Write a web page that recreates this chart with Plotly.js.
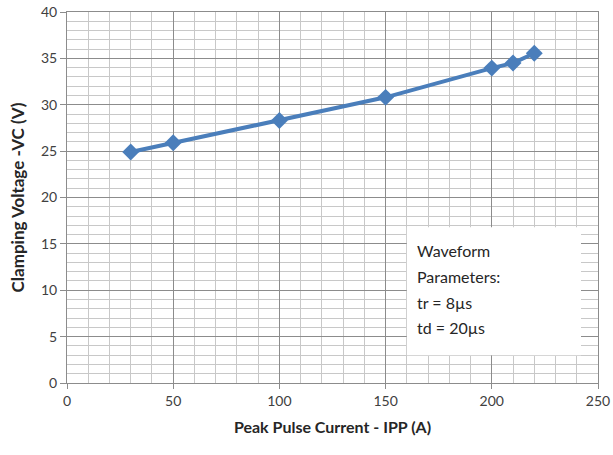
<!DOCTYPE html>
<html><head><meta charset="utf-8">
<script src="https://cdn.plot.ly/plotly-3.0.1.min.js"></script>
<style>html,body{margin:0;padding:0;background:#fff}#c{width:613px;height:455px}</style>
</head><body><div id="c"></div>
<script>
const currents = [30, 50, 100, 150, 200, 210, 220];
const voltages = [24.9, 25.9, 28.3, 30.8, 33.95, 34.5, 35.55];
const noteLines = ["Waveform", "Parameters:", "tr = 8\u00b5s", "td = 20\u00b5s"];
const xTitle = "Peak Pulse Current - IPP (A)";
const yTitle = "Clamping Voltage -VC (V)";

const font = "Lato, 'Open Sans', sans-serif";
const annotations = noteLines.map((t, i) => ({
  x: 0.655, y: 0.356 - i * 0.069, xref: 'paper', yref: 'paper',
  xanchor: 'left', yanchor: 'middle', text: t, showarrow: false,
  font: {family: font, size: 16, color: '#262626'}
}));

const data = [{
  x: currents, y: voltages, type: 'scatter', mode: 'lines+markers',
  line: {color: '#4a7ebb', width: 4},
  marker: {symbol: 'diamond', size: 13, color: '#4a7ebb'}
}];

const layout = {
  width: 613, height: 455,
  margin: {l: 67, r: 15, t: 12, b: 72},
  paper_bgcolor: '#fff', plot_bgcolor: '#fff',
  showlegend: false,
  font: {family: font, color: '#404040'},
  xaxis: {
    range: [0, 250], dtick: 50, tick0: 0,
    showgrid: true, gridcolor: '#8c8c8c', gridwidth: 1,
    minor: {dtick: 10, showgrid: true, gridcolor: '#c8c8c8', gridwidth: 1},
    ticks: 'outside', ticklen: 5, tickcolor: '#8c8c8c',
    showline: true, linecolor: '#8c8c8c', mirror: true, zeroline: false,
    tickfont: {size: 14, color: '#404040'},
    title: {text: xTitle, font: {size: 16, color: '#262626', weight: 'bold'}, standoff: 14}
  },
  yaxis: {
    range: [0, 40], dtick: 5, tick0: 0,
    showgrid: true, gridcolor: '#8c8c8c', gridwidth: 1,
    minor: {dtick: 1, showgrid: true, gridcolor: '#c8c8c8', gridwidth: 1},
    ticks: 'outside', ticklen: 6, tickcolor: '#8c8c8c',
    showline: true, linecolor: '#8c8c8c', mirror: true, zeroline: false,
    tickfont: {size: 14, color: '#404040'},
    title: {text: yTitle, font: {size: 17, color: '#262626', weight: 'bold'}, standoff: 12}
  },
  shapes: [{
    type: 'rect', xref: 'paper', yref: 'paper', layer: 'above',
    x0: 0.64, x1: 0.968, y0: 0.075, y1: 0.42,
    fillcolor: '#ffffff', line: {width: 0}
  }],
  annotations: annotations
};
Plotly.newPlot('c', data, layout, {displayModeBar: false, staticPlot: true});
</script></body></html>
